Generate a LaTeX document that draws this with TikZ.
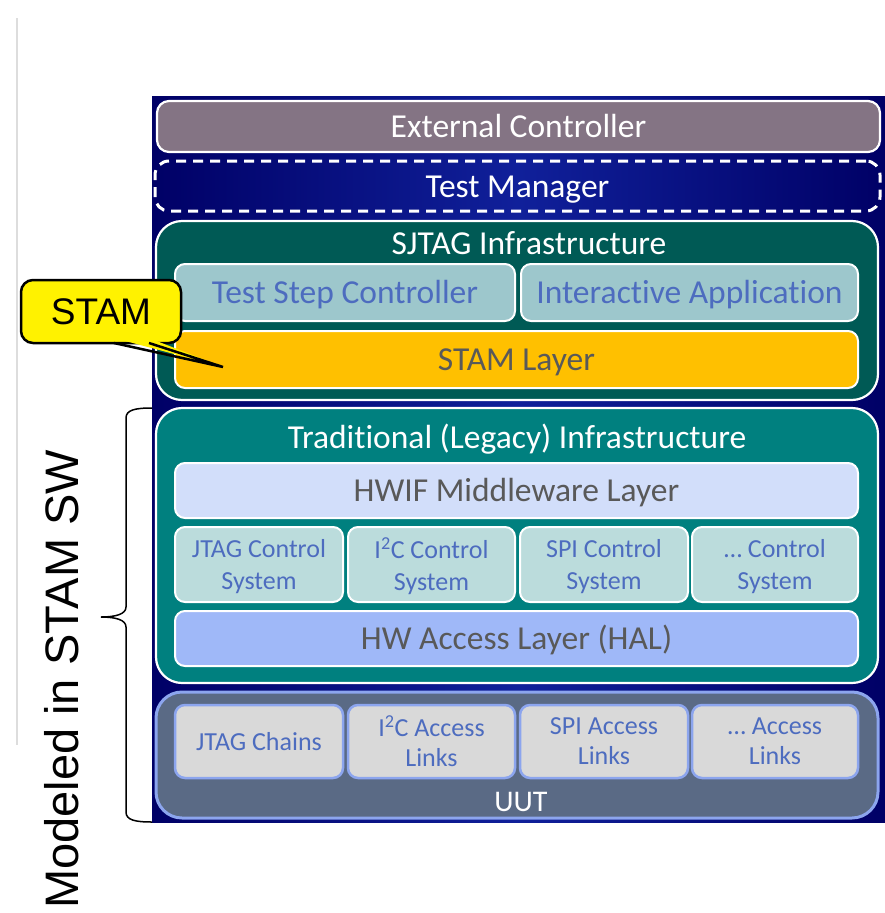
\documentclass[tikz,border=0pt]{standalone}
\usepackage{fontspec}
\setmainfont{Carlito}[Ligatures=NoCommon]
\newfontfamily\arialf{Liberation Sans}
\definecolor{navyD}{HTML}{000066}
\definecolor{navyL}{HTML}{10209A}
\definecolor{extc}{HTML}{847484}
\definecolor{sjtagc}{HTML}{005A55}
\definecolor{tradc}{HTML}{00807F}
\definecolor{tscc}{HTML}{9DC7CC}
\definecolor{stamc}{HTML}{FFC000}
\definecolor{hwifc}{HTML}{D2DEFA}
\definecolor{ctlc}{HTML}{BBDCDC}
\definecolor{halc}{HTML}{9FB8F8}
\definecolor{uutc}{HTML}{5A6A85}
\definecolor{uutb}{HTML}{8CA5EE}
\definecolor{accc}{HTML}{D9D9D9}
\definecolor{bluet}{HTML}{4D6CBF}
\definecolor{grayt}{HTML}{595959}
\definecolor{linegray}{HTML}{DDDDDD}
\begin{document}
\begin{tikzpicture}[x=1pt,y=-1pt,
  every node/.style={inner sep=0pt, outer sep=0pt},
  bigfont/.style={font=\fontsize{33.5}{38}\selectfont, text height=22pt, text depth=0pt},
  bigbox/.style={draw=white, line width=2.2pt, rounded corners=26pt, anchor=north west},
  inbox/.style={draw=white, line width=2pt, rounded corners=10pt, anchor=north west, align=center},
  accbox/.style={draw=uutb, line width=2.5pt, rounded corners=10pt, anchor=north west, align=center, fill=accc, text=bluet, font=\fontsize{26}{30}\selectfont, text depth=0pt},
  ctlbox/.style={inbox, fill=ctlc, text=bluet, font=\fontsize{26}{32}\selectfont, text depth=0pt},
  wtitle/.style={text=white, bigfont}
]
\useasboundingbox (0,0) rectangle (885,913);
\fill[white] (0,0) rectangle (885,913);
% thin gray rule
\draw[linegray, line width=2pt] (17,18) -- (17,745);
% navy background
\shade[left color=navyD, right color=navyD, middle color=navyL] (152,96) rectangle (885,822);
\node[bigbox, draw=white, fill=extc, rounded corners=12pt, minimum width=723pt, minimum height=51pt, text=white, bigfont] (ext) at (157,101) {External Controller};
\node[bigbox, draw=white, dash pattern=on 10pt off 7pt, line width=3pt, rounded corners=14pt, minimum width=725pt, minimum height=50pt, text=white, bigfont] (tm) at (155,161) {Test Manager};
% SJTAG
\node[bigbox, fill=sjtagc, minimum width=722pt, minimum height=179pt] (sjtag) at (156,221) {};
\node[wtitle] (sjtagt) at (529,243) {SJTAG Infrastructure};
\node[inbox, fill=tscc, text=bluet, bigfont, minimum width=340pt, minimum height=57pt] (tsc) at (175,264) {Test Step Controller};
\node[inbox, fill=tscc, text=bluet, bigfont, minimum width=337pt, minimum height=57pt] (ia) at (521,264) {Interactive Application};
\node[inbox, fill=stamc, text=grayt, bigfont, minimum width=683pt, minimum height=57pt] (staml) at (175,331) {STAM Layer};
% Traditional
\node[bigbox, fill=tradc, minimum width=722pt, minimum height=275pt] (trad) at (156,408) {};
\node[wtitle] (tradt) at (517,437) {Traditional (Legacy) Infrastructure};
\node[inbox, fill=hwifc, text=grayt, bigfont, minimum width=683pt, minimum height=55pt] (hwif) at (175,463) {HWIF Middleware Layer};
\node[ctlbox, minimum width=168pt, minimum height=75pt] (c1) at (175,527) {JTAG Control\\System};
\node[ctlbox, minimum width=167pt, minimum height=75pt] (c2) at (348,527) {I\textsuperscript{2}C Control\\System};
\node[ctlbox, minimum width=168pt, minimum height=75pt] (c3) at (520,527) {SPI Control\\System};
\node[ctlbox, minimum width=166pt, minimum height=75pt] (c4) at (692,527) {\dots\ Control\\System};
\node[inbox, fill=halc, text=grayt, bigfont, minimum width=683pt, minimum height=55pt] (hal) at (175,611) {HW Access Layer (HAL)};
% UUT
\node[bigbox, draw=uutb, line width=3pt, fill=uutc, minimum width=722pt, minimum height=126pt] (uut) at (156,692) {};
\node[text=white, font=\fontsize{30}{32}\selectfont, text height=20pt, text depth=0pt] (uutt) at (521,801) {UUT};
\node[accbox, minimum width=168pt, minimum height=73pt] (a1) at (175,705) {JTAG Chains};
\node[accbox, minimum width=167pt, minimum height=73pt] (a2) at (348,705) {I\textsuperscript{2}C Access\\Links};
\node[accbox, minimum width=168pt, minimum height=73pt] (a3) at (520,705) {SPI Access\\Links};
\node[accbox, minimum width=166pt, minimum height=73pt] (a4) at (692,705) {\dots\ Access\\Links};
% callout
\node[draw=black, fill=yellow, line width=2.5pt, rounded corners=12pt, anchor=north west, minimum width=160pt, minimum height=63pt, font=\arialf\fontsize{37}{40}\selectfont] (stamc) at (21,280) {STAM};
\coordinate (tip) at (223,367);
\fill[yellow] (114,338) -- (tip) -- (149,338) -- cycle;
\draw[line width=2.5pt, line join=miter] (114,343) -- (tip) -- (149,343);
% brace
\draw[black, line width=1.5pt] (152,408) .. controls (135,408) and (126,410) .. (126,418) -- (126,607) .. controls (126,614) and (116,617) .. (101,617) .. controls (116,617) and (126,620) .. (126,627) -- (126,812) .. controls (126,820) and (135,822) .. (152,822);
\node[rotate=90, anchor=base east, font=\arialf\fontsize{47}{52}\selectfont] (model) at (78,450) {Modeled in STAM SW};
\end{tikzpicture}
\end{document}
